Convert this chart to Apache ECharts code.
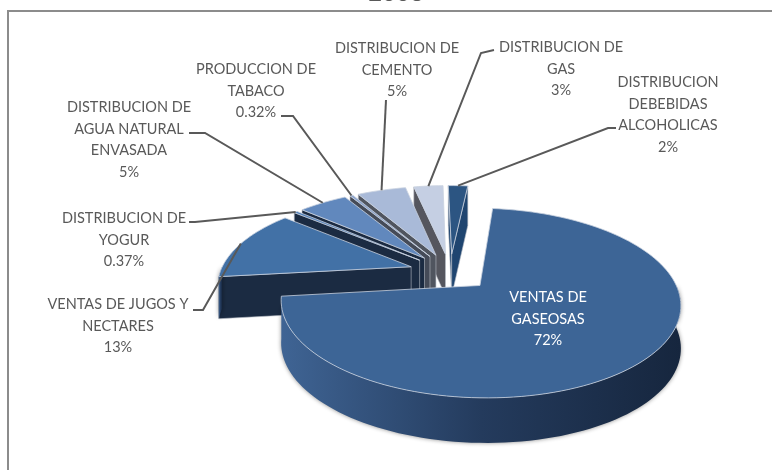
<!DOCTYPE html>
<html><head><meta charset="utf-8">
<style>html,body{margin:0;padding:0;background:#fff}#c{width:772px;height:470px}</style>
<script src="https://cdn.jsdelivr.net/npm/echarts@6/dist/echarts.min.js"></script>
</head><body><div id="c"></div>
<script>
const categories = ['VENTAS DE\nGASEOSAS','VENTAS DE JUGOS Y\nNECTARES','DISTRIBUCION DE\nYOGUR','DISTRIBUCION DE\nAGUA NATURAL\nENVASADA','PRODUCCION DE\nTABACO','DISTRIBUCION DE\nCEMENTO','DISTRIBUCION DE\nGAS','DISTRIBUCION\nDEBEBIDAS\nALCOHOLICAS'];
const percentLabels = ['72%','13%','0.37%','5%','0.32%','5%','3%','2%'];
const values = [72,13,0.37,5,0.32,5,3,2];
const titleText = '2008';

const topColors = ['#3d6596','#4271a6','#4d7db8','#6188bd','#8ba3cc','#a9bad8','#c5cfe3','#2c5582'];
const wallColors = ['#1b2b42','#1b2b42','#1b2b42','#1b2b42','#454b58','#50555f','#55565e','#1f4570'];
const labelLayout = [
  {x:548,y:287,inner:true},
  {x:118,y:294,line:[[203,310],[193,310]]},
  {x:124,y:208,line:[[195,222],[189,222]]},
  {x:129,y:97,line:[[205,133],[189,133]]},
  {x:256,y:59,line:[[293,116],[281,116]]},
  {x:397,y:38,line:[[386,100]]},
  {x:561,y:37,line:[[481,53],[494,50]]},
  {x:668,y:72,line:[[608,128],[616,128]]}
];

const startDeg = 6, R = 191, explode = 41, cx = 450, cy = 272, ky = 0.454, persp = 0.18, depth = 42;
const total = values.reduce((a,b)=>a+b,0);
const angles = []; let acc = startDeg;
values.forEach(v=>{const s=v/total*360;angles.push([acc,acc+s]);acc+=s;});
const rad = d=>d*Math.PI/180;
function proj(X,Y,z){const w=1+persp*Y/R;return [cx+X/w, cy-ky*Y/w+(z?depth/Math.pow(w,0.3):0)];}
function pt(i,deg,r,z){const a=angles[i],m=rad((a[0]+a[1])/2),t=rad(deg);
  return proj(explode*Math.sin(m)+r*Math.sin(t),explode*Math.cos(m)+r*Math.cos(t),z);}
function arc(i,a,b,z){const n=Math.max(2,Math.ceil(Math.abs(b-a)/2));const o=[];for(let k=0;k<=n;k++)o.push(pt(i,a+(b-a)*k/n,R,z));return o;}

function renderSlice(params,api){
  const i=api.value(1);const [a,b]=angles[i];const ch=[];
  const wall=wallColors[i];
  const quad=d=>{const V0=pt(i,d,0,false),V1=pt(i,d,0,true),O0=pt(i,d,R,false),O1=pt(i,d,R,true);
    ch.push({type:'polygon',shape:{points:[V0,O0,O1,V1]},style:{fill:wall,stroke:'#b9bec6',lineWidth:0.6}});};
  if(Math.sin(rad(a))<0)quad(a);
  if(Math.sin(rad(b))>0)quad(b);
  const from=Math.max(a,90),to=Math.min(b,270);
  if(to>from){const t=arc(i,from,to,false),u=arc(i,from,to,true).reverse();
    ch.push({type:'polygon',shape:{points:t.concat(u)},style:{
      fill:{type:'linear',x:0,y:0,x2:1,y2:0,colorStops:[{offset:0,color:'#3f6494'},{offset:0.5,color:'#243b5d'},{offset:1,color:'#16263e'}]},
      shadowBlur:4,shadowColor:'rgba(0,0,0,0.45)'}});}
  ch.push({type:'polygon',shape:{points:[pt(i,a,0,false)].concat(arc(i,a,b,false))},
    style:{fill:topColors[i],stroke:'#c9d2df',lineWidth:0.8}});
  return {type:'group',children:ch};
}
function renderLabel(params,api){
  const i=api.value(1),L=labelLayout[i],ch=[];
  if(L.line){const mid=(angles[i][0]+angles[i][1])/2;
    ch.push({type:'polyline',shape:{points:[pt(i,mid,R,false)].concat(L.line)},style:{fill:null,stroke:'#595959',lineWidth:2}});}
  ch.push({type:'text',style:{x:L.x,y:L.y,text:categories[i]+'\n'+percentLabels[i],align:'center',verticalAlign:'top',
    font:'14.5px Lato',lineHeight:21.5,fill:L.inner?'#ffffff':'#595959'}});
  return {type:'group',children:ch};
}
const drawOrder=values.map((v,i)=>[v,i]).reverse();
const chart=echarts.init(document.getElementById('c'),null,{renderer:'canvas'});
chart.setOption({animation:false,backgroundColor:'#fff',
  graphic:[
    {type:'rect',z:-1,shape:{x:8,y:11,width:790,height:490},style:{fill:'#fff',stroke:'#8c8c8c',lineWidth:2}},
    {type:'text',x:396,y:-19,style:{text:titleText,align:'center',font:'24px Lato',fill:'#595959'}}
  ],
  series:[
    {type:'custom',coordinateSystem:'none',renderItem:renderSlice,data:drawOrder,silent:true},
    {type:'custom',coordinateSystem:'none',renderItem:renderLabel,data:drawOrder,silent:true,z:5}
  ]});
</script></body></html>
